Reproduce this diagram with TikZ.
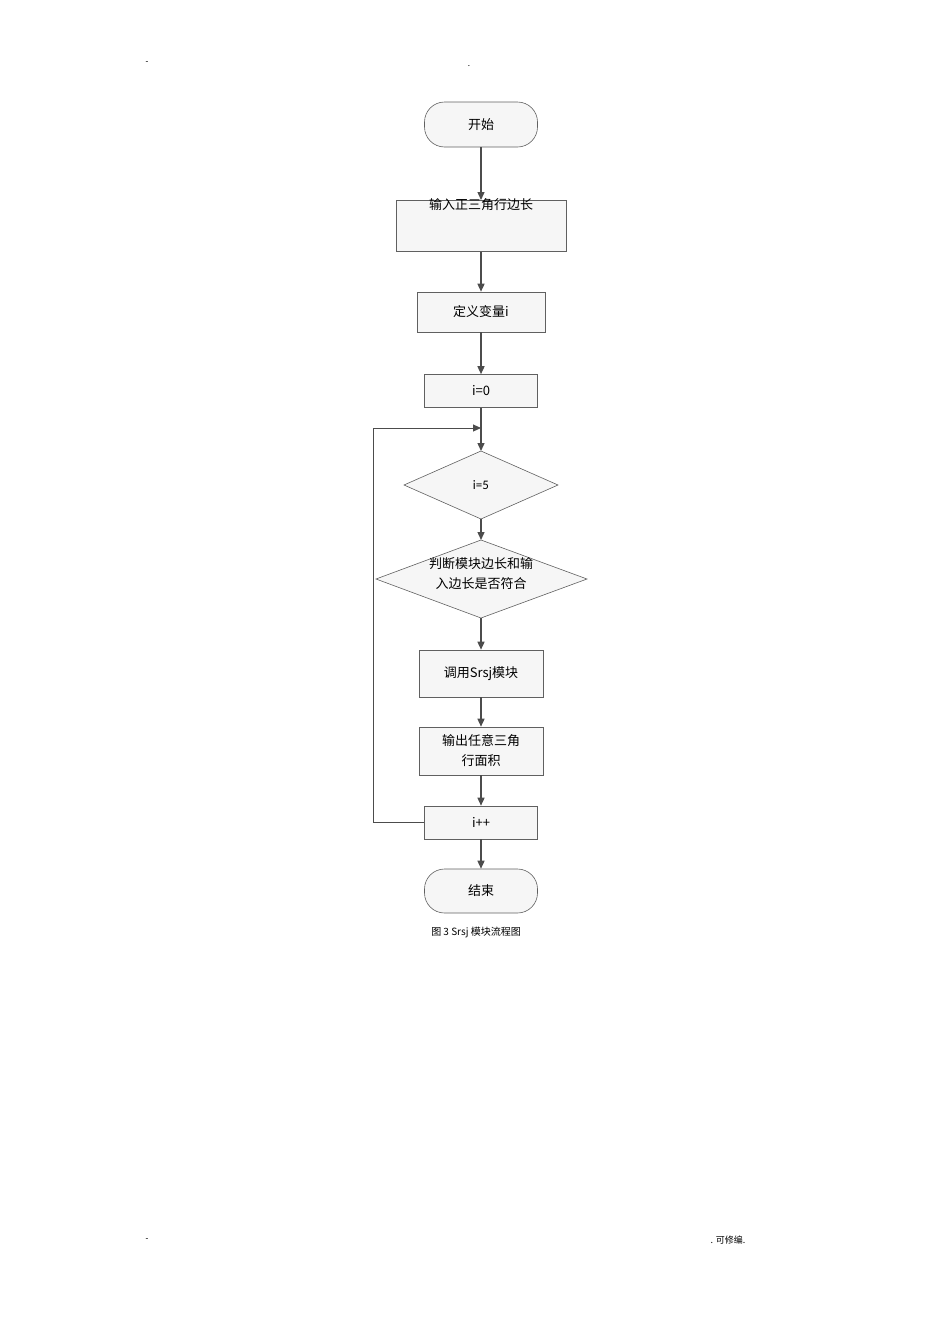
\documentclass[tikz,border=0pt]{standalone}
\usepackage{fontspec}
\setmainfont{Carlito}
\newfontfamily\cjk{Noto Sans CJK SC}
\usetikzlibrary{shapes.geometric,arrows.meta}
\begin{document}
\begin{tikzpicture}[x=1pt,y=-1pt,
  box/.style={draw=gray!75!black,fill=gray!7,line width=0.6pt,inner sep=0pt,font=\cjk\fontsize{13}{16}\selectfont,align=center},
  term/.style={box,rounded corners=20pt},
  dia/.style={box,diamond,aspect=2.3},
  arr/.style={-{Triangle[length=8pt,width=7pt]},line width=1.4pt,draw=black!70}]
\useasboundingbox (0,0) rectangle (950,1344);
\node[font=\small] (h1) at (147,63) {-};
\node[font=\small] (h2) at (469,66) {.};
\node[font=\small] (f1) at (147,1240) {-};
\node[font=\cjk\small] (f2) at (728,1240) {. 可修编.};
\node[term,minimum width=113pt,minimum height=45pt] (s) at (481,124.5) {开始};
\node[box,minimum width=170pt,minimum height=51pt,anchor=north] (in) at (481,200) {\raisebox{0pt}[0pt][0pt]{\raisebox{16pt}{输入正三角行边长}}};
\node[box,minimum width=128pt,minimum height=40pt] (d) at (481,312) {定义变量i};
\node[box,minimum width=113pt,minimum height=33pt] (z) at (481,391) {i=0};
\coordinate (j) at (481,428);
\coordinate (l) at (373,428);
\node[box,diamond,minimum width=0pt,inner sep=0pt,text width=0pt] (c1) at (481,485) {};
\draw[draw=gray!75!black,fill=gray!7,line width=0.6pt] (404,485) -- (481,451) -- (558,485) -- (481,519) -- cycle;
\node[font=\fontsize{13}{16}\selectfont] at (481,485) {i=5};
\draw[draw=gray!75!black,fill=gray!7,line width=0.6pt] (376,579) -- (481,540) -- (587,579) -- (481,618) -- cycle;
\node[font=\cjk\fontsize{13}{20}\selectfont,align=center] (c2t) at (481,574) {判断模块边长和输\\入边长是否符合};
\node[box,minimum width=124pt,minimum height=47pt] (u) at (481,673.5) {调用Srsj模块};
\node[box,minimum width=124pt,minimum height=48pt,font=\cjk\fontsize{13}{20}\selectfont] (o) at (481,751) {输出任意三角\\行面积};
\node[box,minimum width=113pt,minimum height=33pt] (p) at (481,822.5) {i++};
\node[term,minimum width=113pt,minimum height=44pt] (e) at (481,891) {结束};
\node[font=\cjk\fontsize{10}{12}\selectfont] (cap) at (476,932) {图 3 Srsj 模块流程图};
\draw[arr] (s) -- (in);
\draw[arr] (in) -- (d);
\draw[arr] (d) -- (z);
\draw[line width=1.4pt,draw=black!70] (z) -- (j);
\draw[arr] (j) -- (481,451);
\draw[arr] (481,519) -- (481,540);
\draw[arr] (481,618) -- (u);
\draw[arr] (u) -- (o);
\draw[arr] (o) -- (p);
\draw[arr] (p) -- (e);
\draw[arr,line width=1pt] (p.west) -- (373,822.5) -- (l) -- (j);
\end{tikzpicture}
\end{document}
